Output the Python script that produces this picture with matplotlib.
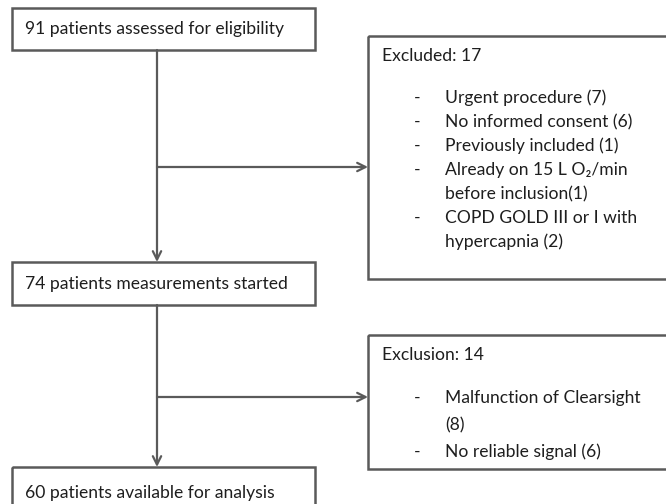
import matplotlib.pyplot as plt
from matplotlib.patches import Rectangle

plt.rcParams['font.family'] = ['Lato', 'DejaVu Sans']

# Flow chart content
main_steps = [
    "91 patients assessed for eligibility",
    "74 patients measurements started",
    "60 patients available for analysis",
]
excluded_titles = ["Excluded: 17", "Exclusion: 14"]
excluded_items = [
    [["Urgent procedure (7)"],
     ["No informed consent (6)"],
     ["Previously included (1)"],
     ["Already on 15 L O\u2082/min", "before inclusion(1)"],
     ["COPD GOLD III or I with", "hypercapnia (2)"]],
    [["Malfunction of Clearsight", "(8)"],
     ["No reliable signal (6)"]],
]

W, H = 666, 504
fig = plt.figure(figsize=(W / 100, H / 100), dpi=100)
ax = fig.add_axes([0, 0, 1, 1])
ax.set_xlim(0, W)
ax.set_ylim(H, 0)
ax.axis('off')

edge = '#5a5a5a'
txt = '#1e1e1e'
fs = 12.6

# main column boxes (top, bottom)
main_boxes = [(8, 50), (262, 305), (467, 530)]
left, right = 12, 315
for (top, bot), label in zip(main_boxes, main_steps):
    ax.add_patch(Rectangle((left, top), right - left, bot - top, fill=False,
                           edgecolor=edge, lw=1.8, clip_on=True))
    ty = (top + bot) / 2 if bot < H else top + 26
    ax.text(left + 13, ty, label, fontsize=fs, color=txt, va='center', ha='left')

# side boxes (top, bottom)
side_boxes = [(36, 279), (335, 469)]
sleft = 368
for (top, bot), title, items in zip(side_boxes, excluded_titles, excluded_items):
    ax.add_patch(Rectangle((sleft, top), 320, bot - top, fill=False,
                           edgecolor=edge, lw=1.8))
    ax.text(sleft + 14, top + 20, title, fontsize=fs, color=txt, va='center')
    y = top + 62
    if title.startswith("Exclusion"):
        y = top + 63
    for item in items:
        ax.text(sleft + 46, y, "-", fontsize=fs, color=txt, va='center')
        for line in item:
            ax.text(sleft + 77, y, line, fontsize=fs, color=txt, va='center')
            y += 24 if title.startswith("Excluded") else 27

# connectors
cx = 157
arrow_kw = dict(arrowstyle='->', color=edge, lw=1.6, mutation_scale=15,
                shrinkA=0, shrinkB=0)
for (top, bot), (ntop, _), hy in zip(main_boxes[:-1], main_boxes[1:], [167, 397]):
    ax.annotate('', xy=(cx, ntop), xytext=(cx, bot), arrowprops=arrow_kw)
    ax.annotate('', xy=(sleft, hy), xytext=(cx, hy), arrowprops=arrow_kw)

fig.savefig('out.png', dpi=100)
